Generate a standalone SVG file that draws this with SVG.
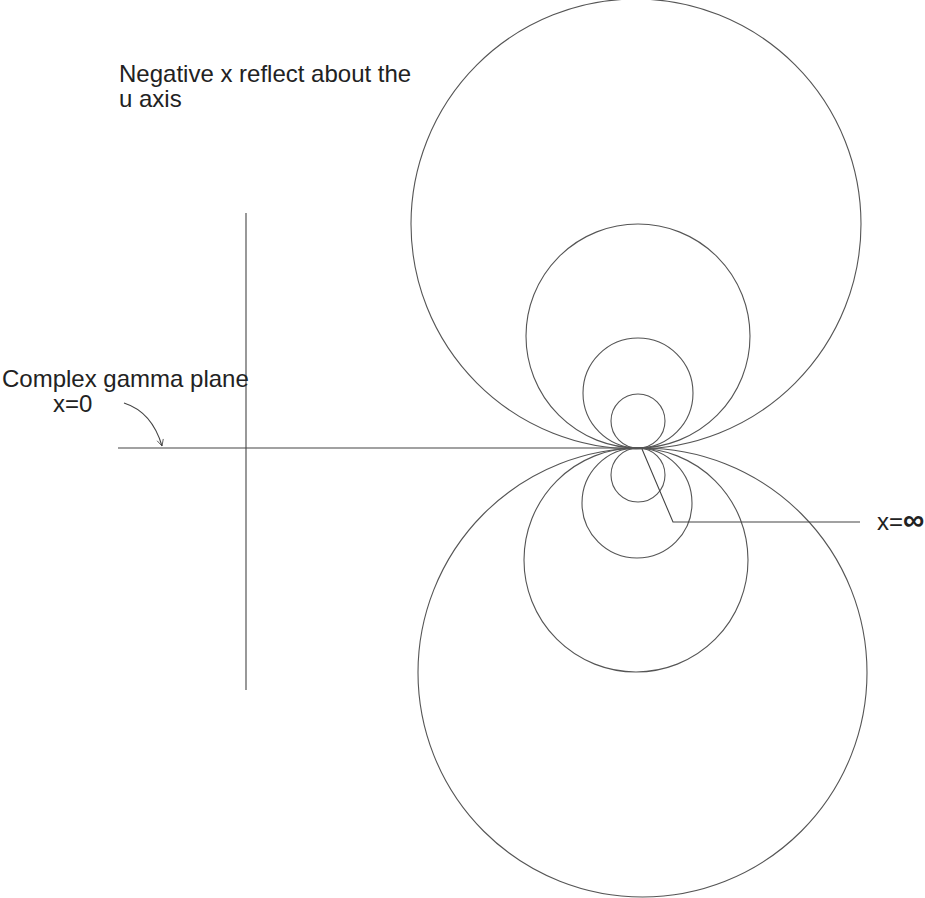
<svg xmlns="http://www.w3.org/2000/svg" width="925" height="898" viewBox="0 0 925 898">
<style>
.c{fill:none;stroke:#555;stroke-width:1.1}
.l{fill:none;stroke:#444;stroke-width:1.1}
text{font-family:"Liberation Sans",Arial,sans-serif;font-size:24px;fill:#222}
</style>
<defs>
<marker id="ah" viewBox="0 0 10 10" refX="9" refY="5" markerWidth="8" markerHeight="8" orient="auto" markerUnits="userSpaceOnUse">
<path d="M1,1 L9,5 L1,9" fill="none" stroke="#444" stroke-width="1"/>
</marker>
</defs>
<rect width="925" height="898" fill="#fff"/>
<g id="axes">
<line class="l" x1="118" y1="448" x2="640" y2="448"/>
<line class="l" x1="246" y1="213" x2="246" y2="690"/>
</g>
<g id="upper-circles">
<circle class="c" cx="636" cy="224" r="225"/>
<circle class="c" cx="638" cy="336" r="112"/>
<circle class="c" cx="638" cy="393" r="55"/>
<circle class="c" cx="638" cy="421" r="27"/>
</g>
<g id="lower-circles">
<circle class="c" cx="642.5" cy="672.5" r="224.5"/>
<circle class="c" cx="636" cy="560" r="112"/>
<circle class="c" cx="637" cy="503" r="55"/>
<circle class="c" cx="638" cy="475" r="27"/>
</g>
<g id="connectors">
<path class="l" d="M124,403 Q152,412 162,446" marker-end="url(#ah)"/>
<polyline class="l" points="642,449 673,522 860,522"/>
</g>
<g id="label-top">
<text x="119" y="82">Negative x reflect about the</text>
<text x="119" y="107">u axis</text>
</g>
<g id="label-left">
<text x="2" y="387">Complex gamma plane</text>
<text x="53" y="412">x=0</text>
</g>
<g id="label-right">
<text x="877" y="530">x=<tspan font-size="30" font-weight="bold">∞</tspan></text>
</g>
</svg>
